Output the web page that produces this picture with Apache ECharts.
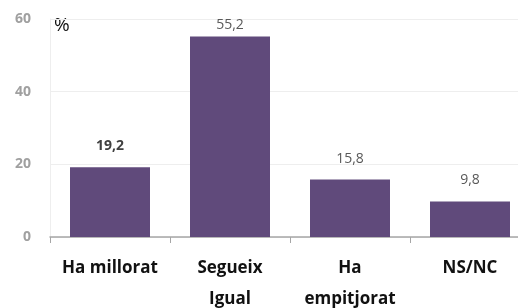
<!DOCTYPE html>
<html><head><meta charset="utf-8">
<script src="https://cdn.jsdelivr.net/npm/echarts@6/dist/echarts.min.js"></script>
<style>html,body{margin:0;padding:0;background:#fff;overflow:hidden}#c{width:518px;height:308px}</style>
</head><body><div id="c"></div>
<script>
const categories = ['Ha millorat', 'Segueix\nIgual', 'Ha\nempitjorat', 'NS/NC'];
const values = [19.2, 55.2, 15.8, 9.8];
const yTicks = [0, 20, 40, 60];

const chart = echarts.init(document.getElementById('c'));
const data = values.map((v, i) => {
  const item = { value: v };
  if (i === 0) item.label = { fontWeight: 'bold', color: '#404040' };
  if (i === 1) item.label = { distance: 4 };
  return item;
});
chart.setOption({
  animation: false,
  grid: { left: 50, width: 480, top: 19, height: 218, outerBoundsMode: 'none', containLabel: false },
  xAxis: {
    type: 'category', data: categories,
    axisLine: { lineStyle: { color: '#a6a6a6', width: 1.5 } },
    axisTick: { show: true, length: 6, lineStyle: { color: '#a6a6a6' } },
    axisLabel: { interval: 0, color: '#111', fontFamily: 'Open Sans', fontWeight: 'bold', fontSize: 17, margin: 16, lineHeight: 31 }
  },
  yAxis: {
    type: 'value', min: 0, max: 60, interval: 20,
    axisLine: { show: true, lineStyle: { color: '#eeeeee' } },
    axisTick: { show: false },
    splitLine: { lineStyle: { color: '#eeeeee' } },
    axisLabel: { color: '#a0a0a0', fontFamily: 'Open Sans', fontWeight: 'bold', fontSize: 14, margin: 19,
      formatter: v => yTicks.includes(v) ? String(v) : '' }
  },
  graphic: [{ type: 'text', left: 54, top: 16, style: { text: '%', fontFamily: 'Open Sans', fontSize: 19, fill: '#111' } }],
  series: [{
    type: 'bar', data: data, barWidth: 80,
    itemStyle: { color: '#604a7b' },
    label: { show: true, position: 'top', distance: 14, color: '#595959', fontFamily: 'Open Sans', fontSize: 14,
      formatter: p => String(p.value).replace('.', ',') }
  }]
});
</script></body></html>
